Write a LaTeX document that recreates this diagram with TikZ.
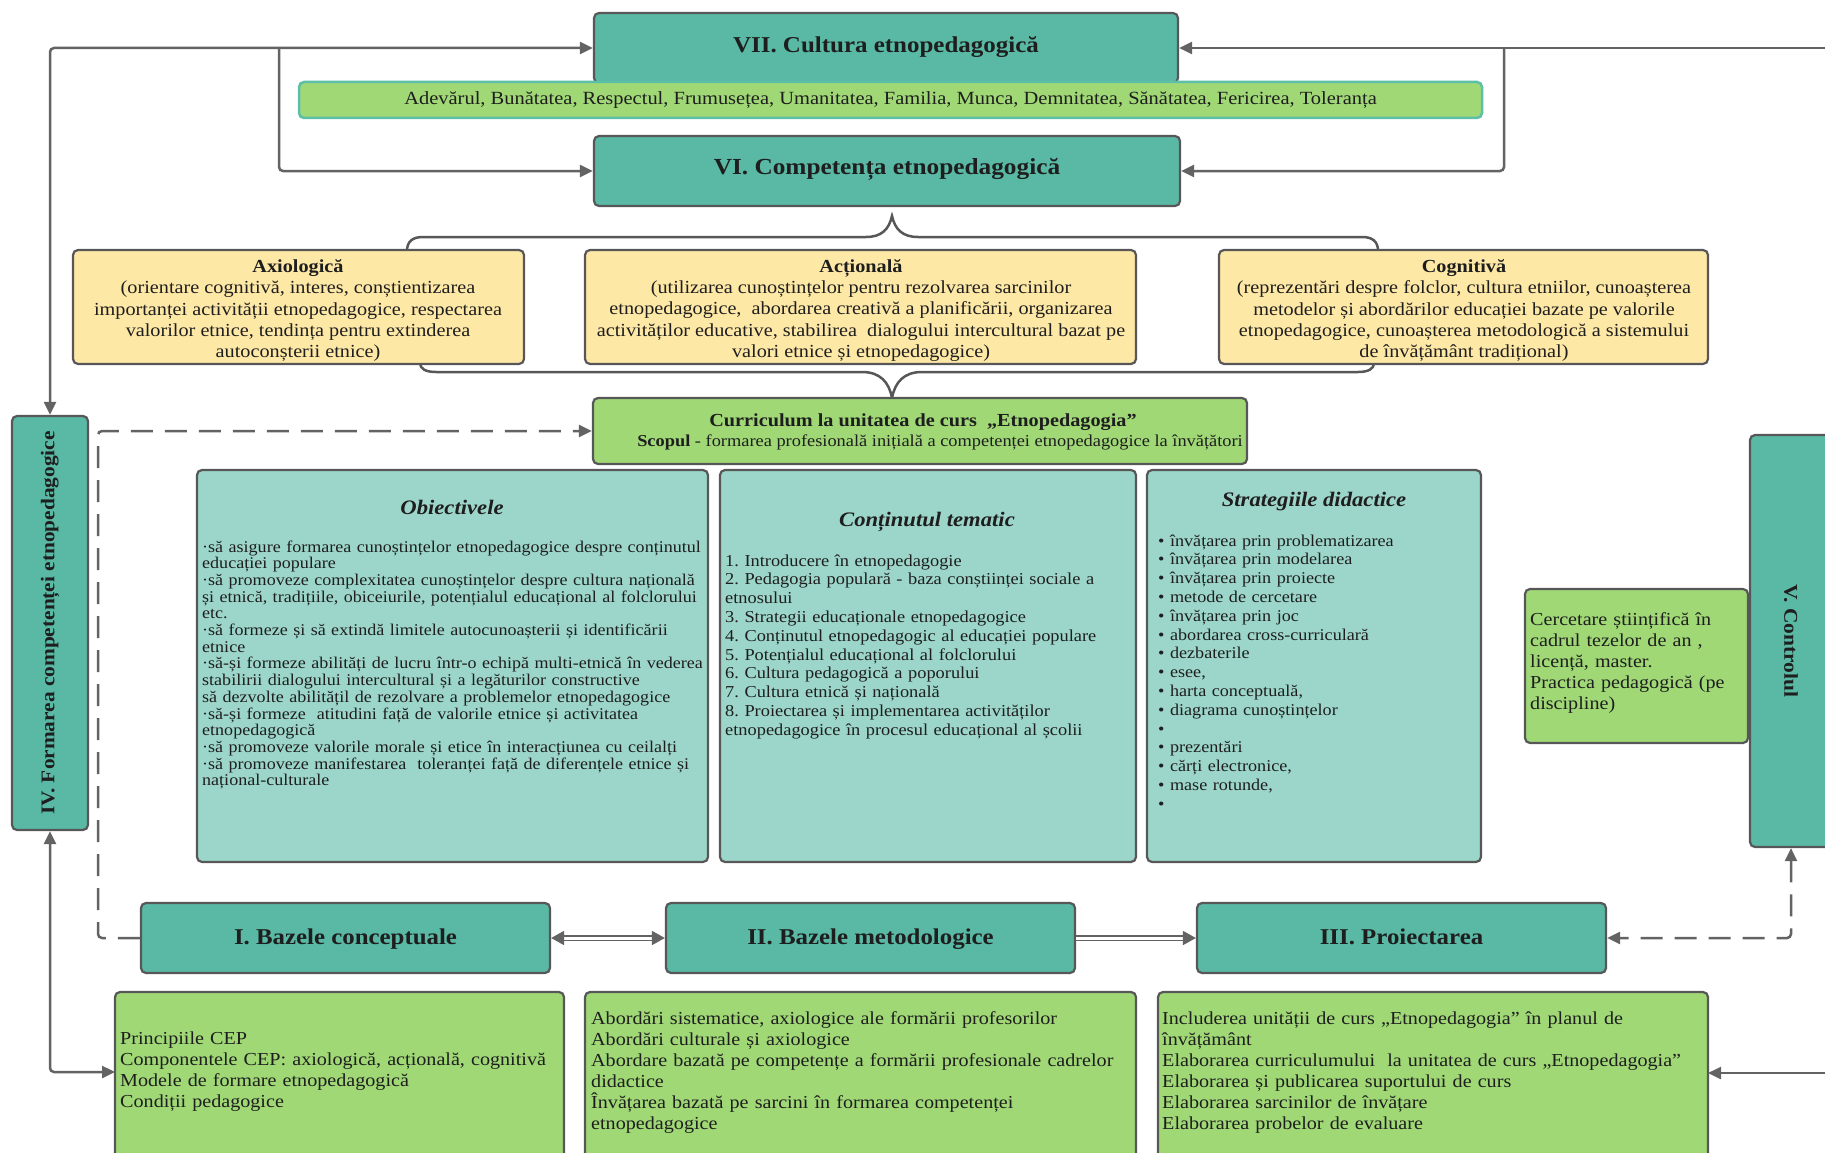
\documentclass[tikz,border=0pt]{standalone}
\usepackage{fontspec}
\setmainfont{Liberation Serif}[FakeStretch=1.1]
\usetikzlibrary{arrows.meta,fit}
\definecolor{tealc}{HTML}{59B9A5}
\definecolor{ltealc}{HTML}{9CD6CA}
\definecolor{greenc}{HTML}{A0D876}
\definecolor{yellowc}{HTML}{FEE8A6}
\definecolor{bordc}{HTML}{575757}
\definecolor{arrc}{HTML}{636363}
\definecolor{barc}{HTML}{5CBFA7}
\definecolor{txtc}{HTML}{1E1E1E}
\tikzset{
  basebox/.style={draw=bordc, line width=2.2pt, rounded corners=5pt, inner sep=0pt},
  tealbox/.style={basebox, fill=tealc},
  lightbox/.style={basebox, fill=ltealc},
  greenbox/.style={basebox, fill=greenc},
  yellowbox/.style={basebox, fill=yellowc},
  conn/.style={draw=arrc, line width=2.5pt, rounded corners=4pt, >={Triangle[length=13pt,width=12pt]}},
  dconn/.style={conn, dash pattern=on 22pt off 12pt},
  dbl/.style={draw=arrc, double=white, double distance=3pt, line width=1.7pt, >={Triangle[length=13pt,width=14pt]}},
  brace/.style={draw=bordc, line width=2.5pt},
  ttl/.style={inner sep=0pt, anchor=base, font=\bfseries\fontsize{22.6}{26}\selectfont},
  itl/.style={font=\bfseries\itshape\fontsize{20.6}{24}\selectfont, inner sep=0pt},
  body/.style={inner sep=0pt, align=left, text width=640pt, anchor=base west},
  ytxt/.style={inner sep=0pt, align=center, font=\fontsize{18.4}{21.3}\selectfont},
}
\begin{document}
\frenchspacing
\begin{tikzpicture}[x=1pt,y=-1pt,text=txtc]
\useasboundingbox (0,0) rectangle (1825,1153);
% braces
\draw[brace] (407,251) .. controls (407,241) and (413,237) .. (423,237) -- (866,237) .. controls (882,237) and (889,229) .. (892,216) .. controls (895,229) and (902,237) .. (918,237) -- (1362,237) .. controls (1372,237) and (1378,241) .. (1378,251);
\draw[brace] (420,363) .. controls (420,369) and (426,372) .. (436,372) -- (862,372) .. controls (880,372) and (889,382) .. (892,398) .. controls (895,382) and (904,372) .. (922,372) -- (1358,372) .. controls (1368,372) and (1374,369) .. (1374,363);
% top boxes
\node[tealbox, fit={(594,13)(1178,83)}] (vii) {};
\node[inner sep=0pt, font=\bfseries\fontsize{22.7}{26}\selectfont] (viit) at (886,47.5) {VII. Cultura etnopedagogică};
\node[basebox, fill=greenc, draw=barc, line width=2.5pt, fit={(299,82)(1482,118)}] (bar) {};
\node[inner sep=0pt, font=\fontsize{18.6}{22}\selectfont] (bart) at (bar.center) {Adevărul, Bunătatea, Respectul, Frumusețea, Umanitatea, Familia, Munca, Demnitatea, Sănătatea, Fericirea, Toleranța};
\node[tealbox, fit={(594,136)(1180,206)}] (vi) {};
\node[inner sep=0pt, font=\bfseries\fontsize{23}{26}\selectfont] (vit) at (887,169.5) {VI. Competența etnopedagogică};
% yellow
\node[yellowbox, fit={(73,250)(524,364)}] (axi) {};
\node[ytxt] (axit) at (298,310.5) {\textbf{Axiologică}\\(orientare cognitivă, interes, conștientizarea\\importanței activității etnopedagogice, respectarea\\valorilor etnice, tendința pentru extinderea\\autoconșterii etnice)};
\node[yellowbox, fit={(585,250)(1136,364)}] (act) {};
\node[ytxt] (actt) at (861,310.5) {\textbf{Acțională}\\(utilizarea cunoștințelor pentru rezolvarea sarcinilor\\etnopedagogice,\ \ abordarea creativă a planificării, organizarea\\activităților educative, stabilirea\ \ dialogului intercultural bazat pe\\valori etnice și etnopedagogice)};
\node[yellowbox, fit={(1219,250)(1708,364)}] (cog) {};
\node[ytxt] (cogt) at (1464,310.5) {\textbf{Cognitivă}\\(reprezentări despre folclor, cultura etniilor, cunoașterea\\metodelor și abordărilor educației bazate pe valorile\\etnopedagogice, cunoașterea metodologică a sistemului\\de învățământ tradițional)};
% curriculum
\node[greenbox, fit={(593,398)(1247,464)}] (cur) {};
\node[inner sep=0pt, anchor=base, font=\bfseries\fontsize{18.4}{22}\selectfont] (curt1) at (923,426) {Curriculum la unitatea de curs\ \ „Etnopedagogia”};
\node[inner sep=0pt, anchor=base, font=\fontsize{16.7}{20}\selectfont] (curt2) at (940,446.5) {\textbf{Scopul} - formarea profesională inițială a competenței etnopedagogice la învățători};
% middle boxes
\node[lightbox, fit={(197,470)(708,862)}] (obj) {};
\node[itl] (objt) at (452,507) {Obiectivele};
\node[body, font=\fontsize{16.4}{16.7}\selectfont] (objx) at (202,552) {·să asigure formarea cunoștințelor etnopedagogice despre conținutul\\educației populare\\·să promoveze complexitatea cunoștințelor despre cultura națională\\și etnică, tradițiile, obiceiurile, potențialul educațional al folclorului\\etc.\\·să formeze și să extindă limitele autocunoașterii și identificării\\etnice\\·să-și formeze abilități de lucru într-o echipă multi-etnică în vederea\\stabilirii dialogului intercultural și a legăturilor constructive\\să dezvolte abilitățil de rezolvare a problemelor etnopedagogice\\·să-și formeze\ \ atitudini față de valorile etnice și activitatea\\etnopedagogică\\·să promoveze valorile morale și etice în interacțiunea cu ceilalți\\·să promoveze manifestarea\ \ toleranței față de diferențele etnice și\\național-culturale};
\node[lightbox, fit={(720,470)(1136,862)}] (con) {};
\node[itl] (cont) at (927,522) {Conținutul tematic};
\node[body, font=\fontsize{16.7}{18.8}\selectfont] (conx) at (725,566) {1. Introducere în etnopedagogie\\2. Pedagogia populară - baza conștiinței sociale a\\etnosului\\3. Strategii educaționale etnopedagogice\\4. Conținutul etnopedagogic al educației populare\\5. Potențialul educațional al folclorului\\6. Cultura pedagogică a poporului\\7. Cultura etnică și națională\\8. Proiectarea și implementarea activităților\\etnopedagogice în procesul educațional al școlii};
\node[lightbox, fit={(1147,470)(1481,862)}] (str) {};
\node[itl] (strt) at (1314,502) {Strategiile didactice};
\node[body, font=\fontsize{16.5}{18.8}\selectfont] (strx) at (1158,546) {• învățarea prin problematizarea\\• învățarea prin modelarea\\• învățarea prin proiecte\\• metode de cercetare\\• învățarea prin joc\\• abordarea cross-curriculară\\• dezbaterile\\• esee,\\• harta conceptuală,\\• diagrama cunoștințelor\\•\\• prezentări\\• cărți electronice,\\• mase rotunde,\\•};
% right side
\node[greenbox, fit={(1525,589)(1748,743)}] (cer) {};
\node[body, font=\fontsize{18.3}{21}\selectfont] (cerx) at (1530,625) {Cercetare științifică în\\cadrul tezelor de an ,\\licență, master.\\Practica pedagogică (pe\\discipline)};
\node[tealbox, fit={(1750,435)(1832,847)}] (v) {};
\node[rotate=-90, inner sep=0pt, font=\bfseries\fontsize{19.5}{23}\selectfont] (vt) at (1791,641) {V. Controlul};
% left IV
\node[tealbox, fit={(12,416)(88,830)}] (iv) {};
\node[rotate=90, inner sep=0pt, font=\bfseries\fontsize{19.4}{23}\selectfont] (ivt) at (50,623) {IV. Formarea competenței etnopedagogice};
% bottom row
\node[tealbox, fit={(141,903)(550,973)}] (b1) {};
\node[ttl] (b1t) at (345.5,944) {I. Bazele conceptuale};
\node[tealbox, fit={(666,903)(1075,973)}] (b2) {};
\node[ttl] (b2t) at (870.5,944) {II. Bazele metodologice};
\node[tealbox, fit={(1197,903)(1606,973)}] (b3) {};
\node[ttl] (b3t) at (1401.5,944) {III. Proiectarea};
\node[greenbox, fit={(115,992)(564,1172)}] (g1) {};
\node[body, font=\fontsize{18.3}{21}\selectfont] (g1x) at (120,1044) {Principiile CEP\\Componentele CEP: axiologică, acțională, cognitivă\\Modele de formare etnopedagogică\\Condiții pedagogice};
\node[greenbox, fit={(585,992)(1136,1172)}] (g2) {};
\node[body, font=\fontsize{18.3}{21}\selectfont] (g2x) at (591,1024) {Abordări sistematice, axiologice ale formării profesorilor\\Abordări culturale și axiologice\\Abordare bazată pe competențe a formării profesionale cadrelor\\didactice\\Învățarea bazată pe sarcini în formarea competenței\\etnopedagogice};
\node[greenbox, fit={(1158,992)(1708,1172)}] (g3) {};
\node[body, font=\fontsize{18.3}{21}\selectfont] (g3x) at (1162,1024) {Includerea unității de curs „Etnopedagogia” în planul de\\învățământ\\Elaborarea curriculumului\ \ la unitatea de curs „Etnopedagogia”\\Elaborarea și publicarea suportului de curs\\Elaborarea sarcinilor de învățare\\Elaborarea probelor de evaluare};
% coordinates
\coordinate (re1) at (1835,48);
\coordinate (re2) at (1835,1073);
\coordinate (g3in) at (1708,1073);
\coordinate (g1in) at (115,1072);
% connectors
\draw[conn,<->] (iv.north) -- (50,48) -- (vii.west);
\draw[conn,->] (279,48) -- (279,171) -- (vi.west);
\draw[conn,->] (re1) -- (vii.east);
\draw[conn,->] (1504,48) -- (1504,171) -- (vi.east);
\draw[conn,<->] (iv.south) -- (50,1072) -- (g1in);
\draw[conn,->] (re2) -- (g3in);
\draw[dconn,->] (b1.west) -- (98,938) -- (98,431) -- (cur.west);
\draw[dconn,<->] (v.south) -- (1791,938) -- (b3.east);
\draw[dbl,<->] (b1.east) -- (b2.west);
\draw[dbl,->] (b2.east) -- (b3.west);
\end{tikzpicture}
\end{document}
